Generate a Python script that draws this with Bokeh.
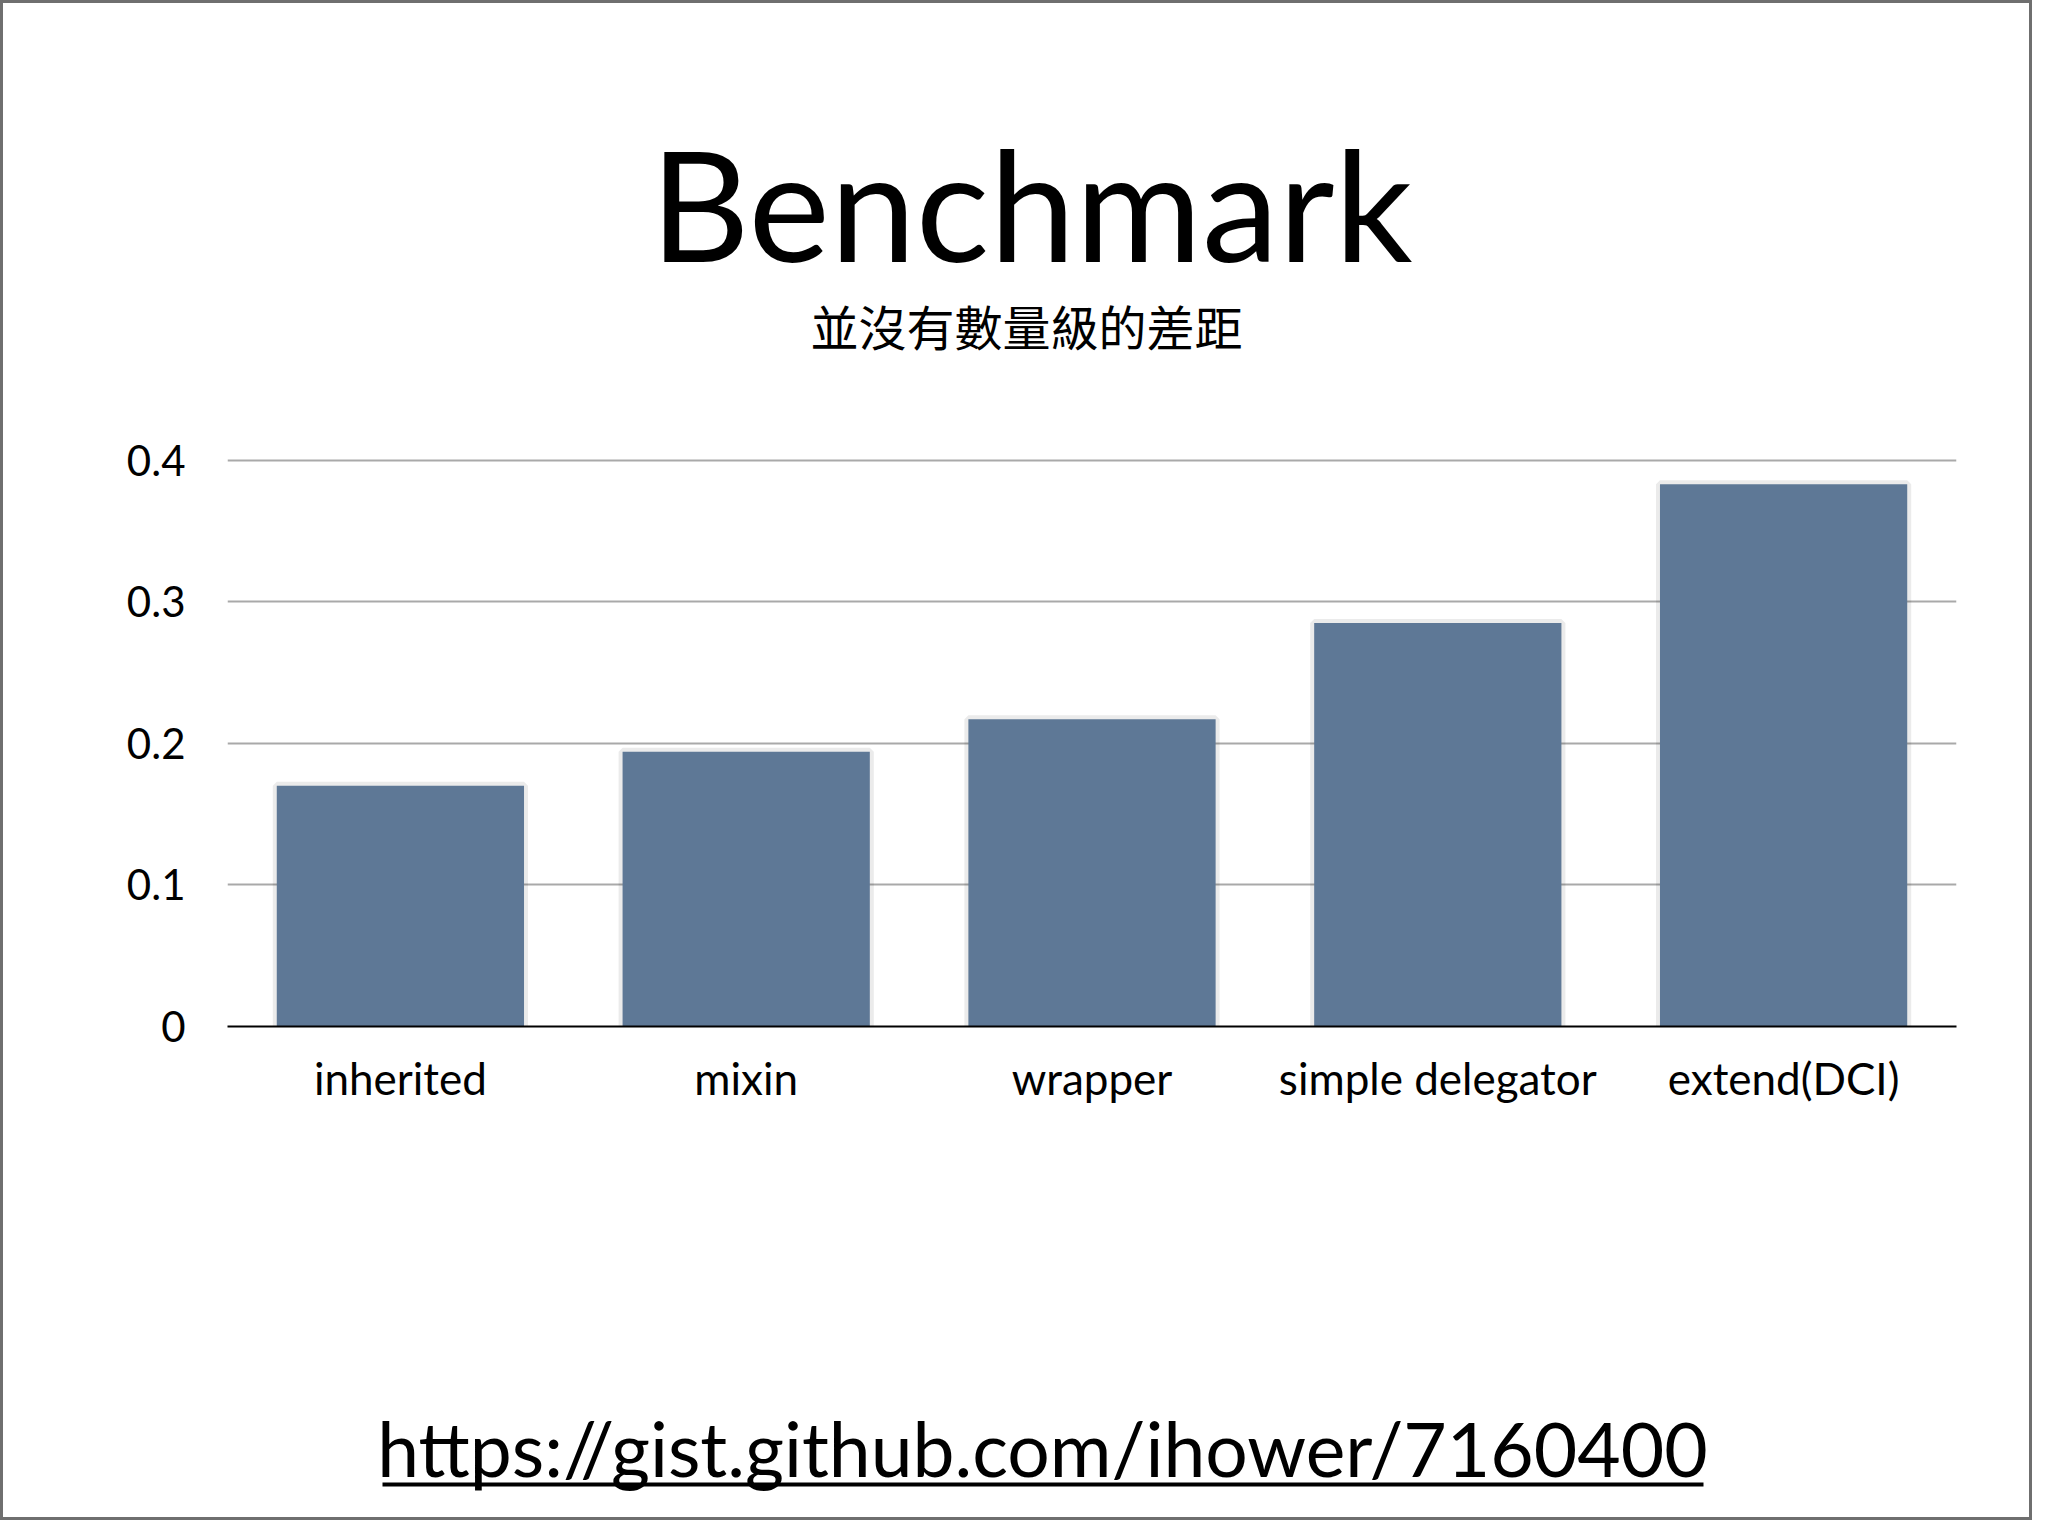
from bokeh.plotting import figure
from bokeh.layouts import column
from bokeh.models import Range1d, FactorRange, FixedTicker
from bokeh.core.properties import value
from bokeh.embed import file_html
from bokeh.resources import INLINE

# ---- data ----
categories = ["inherited", "mixin", "wrapper", "simple delegator", "extend(DCI)"]
values = [0.170, 0.194, 0.217, 0.285, 0.383]
y_ticks = [0, 0.1, 0.2, 0.3, 0.4]
y_tick_labels = ["0", "0.1", "0.2", "0.3", "0.4"]
title_text = "Benchmark"
subtitle_text = "並沒有數量級的差距"
url_text = "https://gist.github.com/ihower/7160400"

# ---- layout (pixels) ----
W = 2032
TOP_H, CHART_H, BOT_H = 400, 770, 350
L, R, T, B = 227, 76, 54, 144
Y_MAX = 0.404
FONT = "Lato"
BAR_COLOR = "#5e7896"


def text_panel(h):
    # x data == page pixel, y data == pixel from the panel's top
    f = figure(width=W, height=h, x_range=Range1d(L, W - R), y_range=Range1d(h, 0),
               output_backend="svg", toolbar_location=None,
               x_axis_type=None, y_axis_type=None,
               min_border_left=L, min_border_right=R, min_border_top=0, min_border_bottom=0,
               background_fill_alpha=0, border_fill_alpha=0)
    f.outline_line_color = None
    f.xgrid.visible = False
    f.ygrid.visible = False
    return f


# ---- header ----
top = text_panel(TOP_H)
top.text(x=[1031], y=[202], text=[title_text], text_align="center",
         text_baseline="middle", text_font=value(FONT),
         text_font_size=value("154px"), text_color="black")
top.text(x=[1026], y=[324], text=[subtitle_text], text_align="center",
         text_baseline="middle", text_font=value("Noto Sans CJK TC"),
         text_font_size=value("48px"), text_color="black")

# ---- chart ----
p = figure(
    width=W, height=CHART_H,
    x_range=FactorRange(*categories, range_padding=0),
    y_range=Range1d(0, Y_MAX),
    output_backend="svg", toolbar_location=None,
    min_border_left=L, min_border_right=R, min_border_top=T, min_border_bottom=B,
    background_fill_alpha=0, border_fill_alpha=0,
)
p.outline_line_color = None

p.vbar(x=categories, top=values, width=0.715, fill_color=None,
       line_color="black", line_alpha=0.08, line_width=8)
p.vbar(x=categories, top=values, width=0.715, fill_color=BAR_COLOR,
       line_color=None)

p.xgrid.grid_line_color = None
p.ygrid.grid_line_color = "#a9a9a9"
p.ygrid.grid_line_width = 2
p.ygrid.ticker = FixedTicker(ticks=y_ticks)

p.yaxis.ticker = FixedTicker(ticks=y_ticks)
p.yaxis.major_label_overrides = dict(zip(y_ticks, y_tick_labels))
p.yaxis.axis_line_color = None
p.yaxis.major_tick_line_color = None
p.yaxis.minor_tick_line_color = None
p.yaxis.major_tick_out = 0
p.yaxis.major_tick_in = 0
p.yaxis.major_label_standoff = 42
p.yaxis.major_label_text_font = FONT
p.yaxis.major_label_text_font_size = "42px"
p.yaxis.major_label_text_color = "black"

p.xaxis.axis_line_color = "black"
p.xaxis.axis_line_width = 2
p.xaxis.major_tick_line_color = None
p.xaxis.minor_tick_line_color = None
p.xaxis.major_tick_out = 0
p.xaxis.major_tick_in = 0
p.xaxis.major_label_standoff = 25
p.xaxis.major_label_text_font = FONT
p.xaxis.major_label_text_font_size = "44px"
p.xaxis.major_label_text_color = "black"

# ---- footer ----
bot = text_panel(BOT_H)
bot.text(x=[1042], y=[277], text=[url_text], text_align="center",
         text_baseline="middle", text_font=value(FONT),
         text_font_size=value("75px"), text_color="black")
bot.line(x=[382, 1703], y=[314, 314], line_color="black", line_width=4)

layout = column(top, p, bot, spacing=0,
                styles={"background-color": "white",
                        "box-shadow": "inset 0 0 0 3px #6f6f6f"})

open("out.html", "w").write(file_html(layout, INLINE))
